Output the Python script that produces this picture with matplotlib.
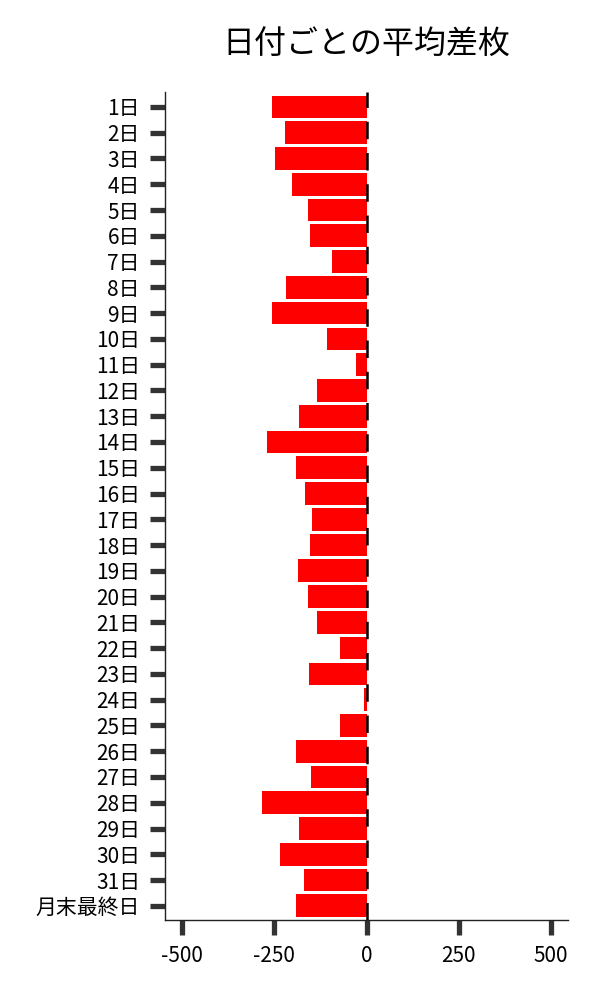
import matplotlib
matplotlib.use('Agg')
import matplotlib.pyplot as plt
import numpy as np

plt.rcParams['font.family'] = ['Noto Sans CJK JP', 'DejaVu Sans']

days = [str(d) + '日' for d in range(1, 32)] + ['月末最終日']
avg_diff = [-255, -222, -249, -203, -160, -152, -95, -219, -257, -106,
            -30, -133, -182, -271, -192, -168, -149, -154, -187, -160,
            -135, -73, -157, -6, -72, -191, -150, -283, -183, -234,
            -169, -191]

fig = plt.figure(figsize=(6, 10), dpi=100)
ax = fig.add_axes([0.275, 0.08, 0.672, 0.828])

y = np.arange(len(days))
ax.barh(y, avg_diff, height=0.88, color='#ff0000', zorder=2)
ax.axvline(0, color='black', linewidth=1.8, dashes=(7, 5.5), zorder=3)

ax.set_yticks(y)
ax.set_yticklabels(days)
ax.set_ylim(len(days) - 0.45, -0.58)
ax.set_xlim(-546, 546)
ax.set_xticks([-500, -250, 0, 250, 500])
ax.set_xticklabels(['-500', '-250', '0', '250', '500'])

ax.tick_params(axis='both', length=11, width=3.8, color='#333333',
               labelsize=15, pad=7)
for side in ['top', 'right']:
    ax.spines[side].set_visible(False)
for side in ['left', 'bottom']:
    ax.spines[side].set_linewidth(1)
    ax.spines[side].set_color('#222222')

fig.text(0.61, 0.955, '日付ごとの平均差枚', fontsize=23, ha='center', va='center')

fig.savefig('out.png', dpi=100)
